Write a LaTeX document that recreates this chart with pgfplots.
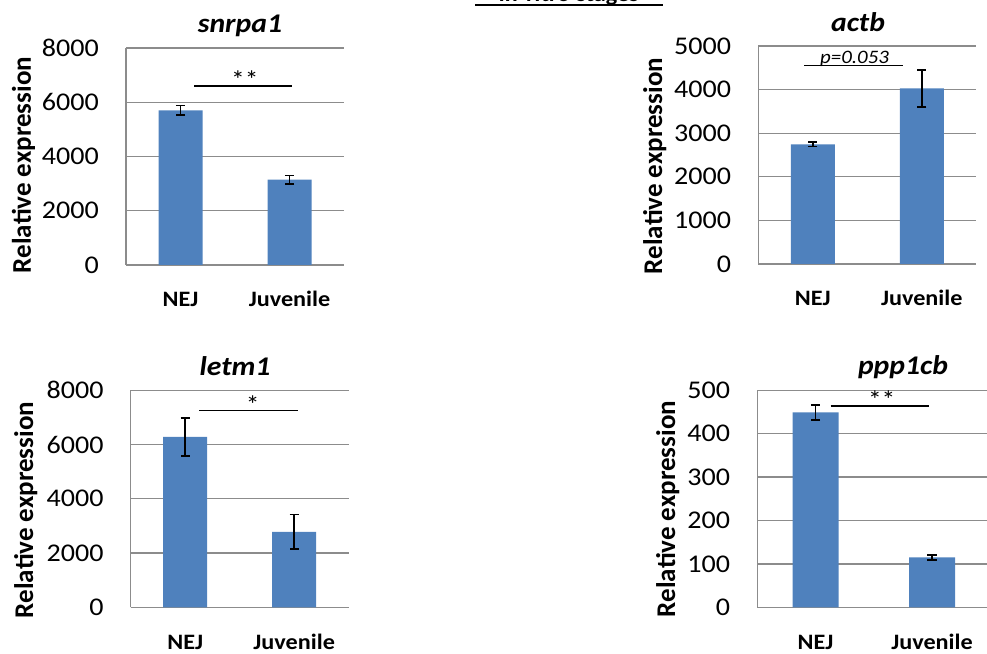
\documentclass[border=0pt]{standalone}
\usepackage{fontspec}
\setmainfont{Carlito}[FakeStretch=1.1]
\newfontfamily\ylabfont{Carlito}
\usepackage{pgfplots}
\pgfplotsset{compat=1.18}
\definecolor{barblue}{HTML}{4F81BD}
\definecolor{gridgray}{HTML}{8C8C8C}

\pgfplotsset{
  panel/.style={
    scale only axis, anchor=south west,
    height=217pt, width=218pt, ymin=0,
    xmin=-0.5, xmax=1.5,
    xtick={0,1}, xticklabels={NEJ,Juvenile},
    axis x line*=bottom, axis y line*=left,
    axis line style={gridgray, line width=1.4pt, -},
    ymajorgrids, grid style={gridgray, line width=1.3pt},
    major tick length=0pt,
    /pgf/number format/assume math mode=true,
    /pgf/number format/set thousands separator={},
    yticklabel style={font=\fontsize{25.5}{29}\selectfont, anchor=east, inner sep=0pt, xshift=-27pt},
    xticklabel style={font=\fontsize{22}{26}\selectfont\bfseries, anchor=base, inner sep=0pt, yshift=-42pt},
    ybar, bar width=44pt,
    clip=false,
  },
  bars/.style={fill=barblue, draw=none,
    error bars/.cd, y dir=both, y explicit,
    error bar style={black, line width=1.8pt},
    error mark options={black, rotate=90, mark size=4.6pt, line width=1.8pt}},
}
\tikzset{
  sig/.style={black, line width=1.5pt},
  star/.style={font=\fontsize{25}{29}\selectfont, anchor=base, inner sep=0pt},
  ptitle/.style={font=\fontsize{27}{31}\selectfont\bfseries\itshape, anchor=base, inner sep=0pt},
  ylab/.style={font=\ylabfont\fontsize{27}{32}\selectfont\bfseries, rotate=90, anchor=base, inner sep=0pt},
}

\begin{document}
\begin{tikzpicture}[x=1pt,y=1pt]

% snrpa1
\begin{axis}[panel, at={(126pt,388pt)}, ymax=8000, ytick={0,2000,...,8000}]
  \addplot[bars] coordinates {(0,5700) +- (0,180) (1,3150) +- (0,150)};
  \draw[sig] (axis cs:0.124,6600) -- (axis cs:1.023,6600);
  \node[star] at (axis cs:0.59,6500) {**};
\end{axis}

% actb
\begin{axis}[panel, at={(758.3pt,389pt)}, height=218pt, ymax=5000, ytick={0,1000,...,5000}]
  \addplot[bars] coordinates {(0,2745) +- (0,50) (1,4030) +- (0,420)};
  \draw[sig] (axis cs:-0.078,4550) -- (axis cs:0.825,4550);
  \node[font=\fontsize{19}{22}\selectfont\itshape, anchor=base, inner sep=0pt] at (axis cs:0.383,4600) {p=0.053};
\end{axis}

% letm1
\begin{axis}[panel, at={(130.7pt,45.7pt)}, ymax=8000, ytick={0,2000,...,8000}]
  \addplot[bars] coordinates {(0,6280) +- (0,700) (1,2780) +- (0,640)};
  \draw[sig] (axis cs:0.129,7250) -- (axis cs:1.032,7250);
  \node[star] at (axis cs:0.62,7150) {*};
\end{axis}

% ppp1cb
\begin{axis}[panel, at={(757.3pt,45.7pt)}, width=233pt, bar width=46pt, ymax=500, ytick={0,100,...,500}]
  \addplot[bars] coordinates {(0,449) +- (0,18) (1,115) +- (0,6)};
  \draw[sig] (axis cs:0.13,464) -- (axis cs:0.976,464);
  \node[star] at (axis cs:0.568,457) {**};
\end{axis}

% panel titles
\node[ptitle] at (240,620) {snrpa1};
\node[ptitle] at (858,621.3) {actb};
\node[ptitle] at (235,277) {letm1};
\node[ptitle] at (903,278) {ppp1cb};

% y-axis labels
\node[ylab] at (31,488) {Relative expression};
\node[ylab] at (662,487) {Relative expression};
\node[ylab] at (33,143) {Relative expression};
\node[ylab] at (675,144) {Relative expression};

% figure heading, running off the top edge
\node[font=\fontsize{22}{26}\selectfont\bfseries, anchor=base, inner sep=0pt] at (569,651) {\textit{In vitro} stages};
\draw[line width=2pt] (475,647.5) -- (663,647.5);

\pgfresetboundingbox
\useasboundingbox (0,0) rectangle (987,653);
\end{tikzpicture}
\end{document}
